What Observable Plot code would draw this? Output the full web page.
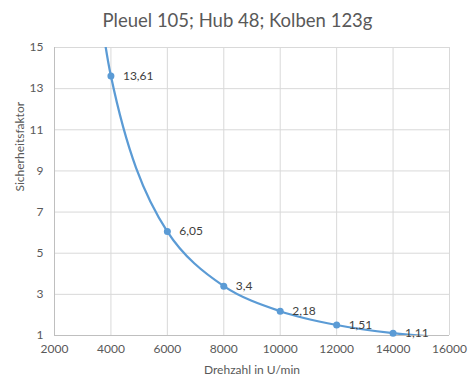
<!DOCTYPE html>
<html><head><meta charset="utf-8">
<script src="https://cdn.jsdelivr.net/npm/d3@7"></script>
<script src="https://cdn.jsdelivr.net/npm/@observablehq/plot@0.6"></script>
<style>
body{margin:0;background:#fff;font-family:Lato,"Open Sans",sans-serif;}
#title{box-sizing:border-box;height:36px;padding-top:4px;line-height:32px;text-align:center;font-size:18.5px;color:#595959;width:475px;}
</style></head><body>
<div id="title">Pleuel 105; Hub 48; Kolben 123g</div>
<div id="chart"></div>
<script>
// Drehzahl (U/min) and Sicherheitsfaktor; first and last points lie outside the visible axis range (estimated)
const drehzahl = [2000, 4000, 6000, 8000, 10000, 12000, 14000, 16000];
const faktor = [54.4, 13.61, 6.05, 3.4, 2.18, 1.51, 1.11, 0.9];
const xTicks = [2000, 4000, 6000, 8000, 10000, 12000, 14000, 16000];
const yTicks = [1, 3, 5, 7, 9, 11, 13, 15];
const titleText = "Pleuel 105; Hub 48; Kolben 123g";
const xLabel = "Drehzahl in U/min";
const yLabel = "Sicherheitsfaktor";

const data = drehzahl.map((x, i) => ({x, y: faktor[i]}));
const visible = data.filter(d => d.y >= 1 && d.y <= 15);
const fmt = v => String(v).replace(".", ",");

const plot = Plot.plot({
  width: 475, height: 354,
  marginTop: 11, marginBottom: 55, marginLeft: 54, marginRight: 26,
  style: {fontFamily: "Lato, 'Open Sans', sans-serif", fontSize: "12px", color: "#595959", background: "#fff"},
  x: {domain: [2000, 16000]},
  y: {domain: [1, 15]},
  marks: [
    Plot.gridX(xTicks, {stroke: "#d9d9d9", strokeOpacity: 1}),
    Plot.gridY(yTicks, {stroke: "#d9d9d9", strokeOpacity: 1}),
    Plot.ruleX([2000], {stroke: "#bfbfbf"}),
    Plot.ruleY([1], {stroke: "#bfbfbf"}),
    Plot.axisX(xTicks, {tickSize: 0, tickPadding: 9, label: null, fill: "#595959", tickFormat: d => String(d)}),
    Plot.axisY(yTicks, {tickSize: 0, tickPadding: 11, label: null, fill: "#595959", tickFormat: d => String(d)}),
    Plot.line(data, {x: "x", y: "y", curve: "catmull-rom", stroke: "#5B9BD5", strokeWidth: 2.25, clip: true}),
    Plot.dot(visible, {x: "x", y: "y", r: 3.5, fill: "#5B9BD5"}),
    Plot.text(visible, {x: "x", y: "y", text: d => fmt(d.y), dx: 12, textAnchor: "start", fill: "#404040", fontSize: 12}),
    Plot.text([xLabel], {text: d => d, frameAnchor: "bottom", dy: 38, fill: "#595959", fontSize: 12}),
    Plot.text([yLabel], {text: d => d, frameAnchor: "left", rotate: -90, dx: -34, fill: "#595959", fontSize: 12})
  ]
});
document.getElementById("title").textContent = titleText;
document.getElementById("chart").appendChild(plot);
</script>
</body></html>
